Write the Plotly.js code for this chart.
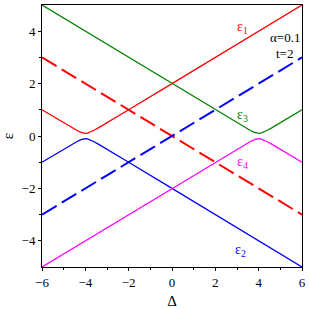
<!DOCTYPE html>
<html><head><meta charset="utf-8">
<script src="https://cdn.plot.ly/plotly-3.0.1.min.js"></script>
<style>html,body{margin:0;padding:0;background:#fff}#c{width:309px;height:309px}</style>
</head><body><div id="c"></div>
<script>
// Data
var deltaA = [-6,-5,-4.6,-4.4,-4.2,-4.1,-4,-3.9,-3.8,-3.6,-3.4,-3,-2,0,2,4,6];
var eps1 = [1,0.5,0.31,0.22,0.14,0.11,0.1,0.11,0.14,0.22,0.31,0.5,1,2,3,4,5];
var eps2 = [-1,-0.5,-0.31,-0.22,-0.14,-0.11,-0.1,-0.11,-0.14,-0.22,-0.31,-0.5,-1,-2,-3,-4,-5];
var deltaB = [-6,-4,-2,0,2,3,3.4,3.6,3.8,3.9,4,4.1,4.2,4.4,4.6,5,6];
var eps3 = [5,4,3,2,1,0.5,0.31,0.22,0.14,0.11,0.1,0.11,0.14,0.22,0.31,0.5,1];
var eps4 = [-5,-4,-3,-2,-1,-0.5,-0.31,-0.22,-0.14,-0.11,-0.1,-0.11,-0.14,-0.22,-0.31,-0.5,-1];
var deltaD = [-6,6];
var dashRed = [3,-3];
var dashBlue = [-3,3];
var xTicks = [-6,-4,-2,0,2,4,6];
var yTicks = [-4,-2,0,2,4];

var serif = 'Liberation Serif';
var traces = [
  {x: deltaD, y: dashRed, mode:'lines', line:{color:'#ff0000', width:2, dash:'17px,6px'}},
  {x: deltaD, y: dashBlue, mode:'lines', line:{color:'#0000ff', width:2, dash:'17px,6px'}},
  {x: deltaA, y: eps1, mode:'lines', line:{color:'#ff0000', width:1.3}},
  {x: deltaA, y: eps2, mode:'lines', line:{color:'#0000ff', width:1.3}},
  {x: deltaB, y: eps3, mode:'lines', line:{color:'#008000', width:1.3}},
  {x: deltaB, y: eps4, mode:'lines', line:{color:'#ff00ff', width:1.3}}
];
var tf = {family: serif, size: 13, color:'#000'};
var layout = {
  width:309, height:309, showlegend:false,
  margin:{l:42, r:7, t:5, b:42, pad:0},
  paper_bgcolor:'#fff', plot_bgcolor:'#fff',
  xaxis:{range:[-6,6], tickvals:xTicks, ticktext:xTicks.map(function(v){return v<0?'\u2212'+(-v):''+v;}),
    showgrid:false, zeroline:false, showline:true, linecolor:'#000', linewidth:1, mirror:true,
    ticks:'outside', ticklen:3, tickcolor:'#000', tickfont:tf,
    minor:{tickvals:[-5,-3,-1,1,3,5], ticks:'outside', ticklen:2, tickcolor:'#000'},
    title:{text:'\u0394', font:{family:serif, size:15, color:'#000'}, standoff:8}},
  yaxis:{range:[-5,5], tickvals:yTicks, ticktext:yTicks.map(function(v){return v<0?'\u2212'+(-v):''+v;}),
    showgrid:false, zeroline:false, showline:true, linecolor:'#000', linewidth:1, mirror:true,
    ticks:'outside', ticklen:3, tickcolor:'#000', tickfont:tf,
    minor:{tickvals:[-3,-1,1,3], ticks:'outside', ticklen:2, tickcolor:'#000'},
    title:{text:'\u03b5', font:{family:serif, size:15, color:'#000'}, standoff:12}},
  annotations:[
    {x:3.26, y:4.14, text:'\u03b5<sub>1</sub>', showarrow:false, font:{family:serif,size:14,color:'#ff0000'}},
    {x:5.22, y:3.75, text:'\u03b1=0.1', showarrow:false, font:tf},
    {x:5.2, y:3.14, text:'t=2', showarrow:false, font:tf},
    {x:3.26, y:0.77, text:'\u03b5<sub>3</sub>', showarrow:false, font:{family:serif,size:14,color:'#008000'}},
    {x:3.26, y:-1.0, text:'\u03b5<sub>4</sub>', showarrow:false, font:{family:serif,size:14,color:'#ff00ff'}},
    {x:3.17, y:-4.37, text:'\u03b5<sub>2</sub>', showarrow:false, font:{family:serif,size:14,color:'#0000ff'}}
  ]
};
Plotly.newPlot('c', traces, layout, {staticPlot:true, displayModeBar:false});
</script></body></html>
